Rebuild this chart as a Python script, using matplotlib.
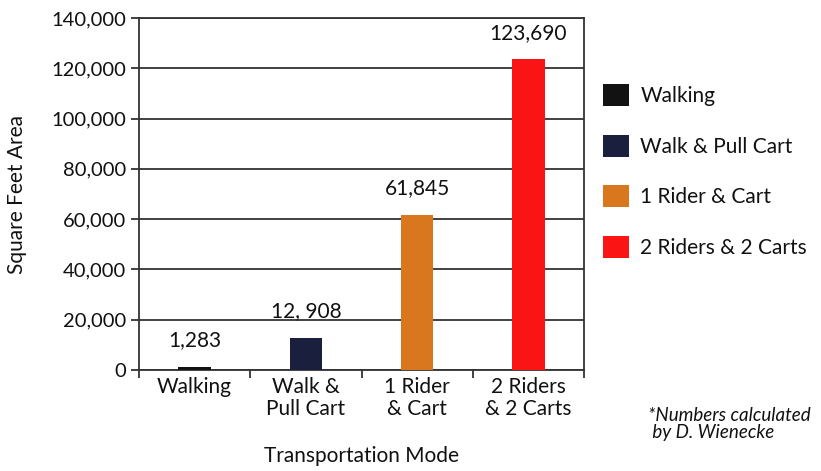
import matplotlib
matplotlib.use("Agg")
import matplotlib.pyplot as plt
from matplotlib.patches import Patch
from matplotlib.ticker import FuncFormatter

categories = ["Walking", "Walk &\nPull Cart", "1 Rider\n& Cart", "2 Riders\n& 2 Carts"]
legend_labels = ["Walking", "Walk & Pull Cart", "1 Rider & Cart", "2 Riders & 2 Carts"]
values = [1283, 12908, 61845, 123690]
value_labels = ["1,283", "12, 908", "61,845", "123,690"]
colors = ["#121212", "#1b1f3e", "#d9771e", "#fb1414"]
yticks = [0, 20000, 40000, 60000, 80000, 100000, 120000, 140000]

plt.rcParams['font.family'] = ['Lato', 'DejaVu Sans']

fig = plt.figure(figsize=(8.21, 4.71), dpi=100)
ax = fig.add_axes([139/821, 1-370/471, (584-139)/821, (370-18)/471])

x = list(range(len(categories)))
ax.bar(x, values, width=0.29, color=colors, zorder=3)
for xi, v, lab in zip(x, values, value_labels):
    ax.annotate(lab, (xi, v), xytext=(0, 19), textcoords="offset points",
                ha="center", va="center", fontsize=15, color="#111111")

ax.set_xlim(-0.5, 3.5)
ax.set_ylim(0, 140000)
ax.set_yticks(yticks)
ax.yaxis.set_major_formatter(FuncFormatter(lambda v, p: f"{int(v):,}"))
ax.grid(axis="y", color="#333333", linewidth=1.3, zorder=0)

ax.set_xticks([-0.5, 0.5, 1.5, 2.5, 3.5])
ax.set_xticklabels([])
ax.set_xticks(x, minor=True)
ax.set_xticklabels(categories, minor=True, fontsize=15, color="#111111", linespacing=1.1)
ax.tick_params(axis="x", which="major", length=6, width=1.3, color="#333333", direction="out")
ax.tick_params(axis="x", which="minor", length=0, pad=5)
ax.tick_params(axis="y", length=6, width=1.3, color="#333333", labelsize=14.5,
               labelcolor="#111111", pad=3)

for s in ["left", "right", "bottom", "top"]:
    ax.spines[s].set_color("#333333")
    ax.spines[s].set_linewidth(1.3)

ax.set_ylabel("Square Feet Area", fontsize=15, color="#111111")
ax.yaxis.set_label_coords((27-139)/445, 0.5)
ax.set_xlabel("Transportation Mode", fontsize=15, color="#111111")
ax.xaxis.set_label_coords(0.5, (370-446)/352)

handles = [Patch(facecolor=c, edgecolor="none") for c in colors]
fig.legend(handles, legend_labels, loc="center left", bbox_to_anchor=(603/821, 1-171/471),
           frameon=False, fontsize=15, handlelength=1.25, handleheight=1.25,
           labelspacing=1.37, handletextpad=0.55, borderaxespad=0, borderpad=0,
           labelcolor="#111111")

fig.text(648/821, 1-424/471, "*Numbers calculated\n by D. Wienecke", fontsize=13.5,
         style="italic", ha="left", va="center", color="#111111", linespacing=1.05)

fig.savefig("out.png", dpi=100, facecolor="white")
